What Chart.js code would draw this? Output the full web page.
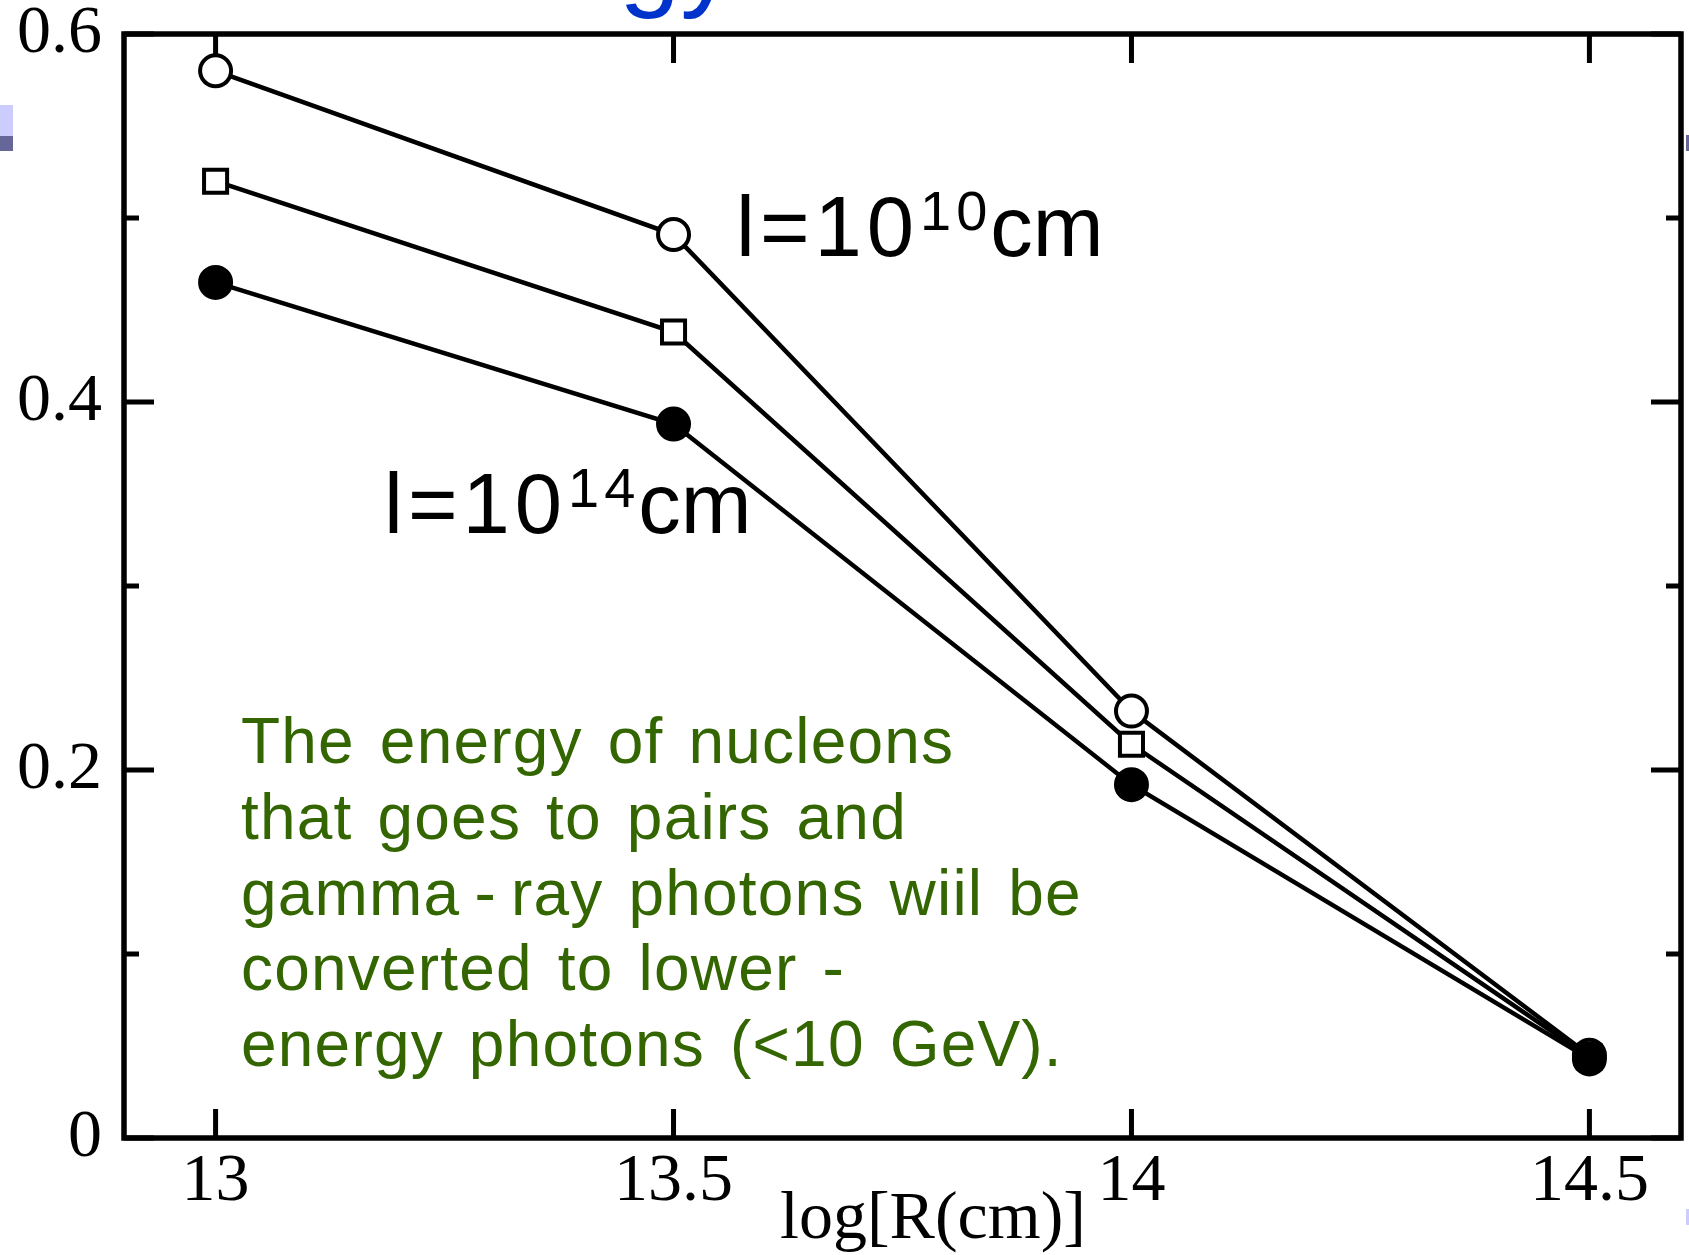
<!DOCTYPE html>
<html>
<head>
<meta charset="utf-8">
<script src="https://cdn.jsdelivr.net/npm/chart.js@4.4.1/dist/chart.umd.min.js"></script>
<style>
  html, body { margin: 0; padding: 0; background: #fff; }
  #wrap { width: 1689px; height: 1255px; }
</style>
</head>
<body>
<div id="wrap"><canvas id="myChart" width="1689" height="1255"></canvas></div>
<script>
// fraction of nucleon energy going to pairs and gamma rays vs log R
var logR = [13, 13.5, 14, 14.5];
var openCircle = [0.58, 0.491, 0.232, 0.045];
var openSquare = [0.52, 0.438, 0.214, 0.044];
var filledCircle = [0.465, 0.388, 0.192, 0.043];

var xTicks = [13, 13.5, 14, 14.5];
var yTicks = [0, 0.1, 0.2, 0.3, 0.4, 0.5, 0.6];
var yLabels = ["0", "", "0.2", "", "0.4", "", "0.6"];

var noteLines = [
    "The energy of nucleons",
    "that goes to pairs and",
    "gamma\u2009-\u2009ray photons wiil be",
    "converted to lower -",
    "energy photons (<10 GeV)."
];

let toPoints = (ys) => logR.map((x, i) => ({ x: x, y: ys[i] }));

// superscript label like l=10^10cm
let drawPowerLabel = (ctx, x, y, exp) => {
    ctx.save();
    ctx.fillStyle = "#000";
    ctx.textBaseline = "alphabetic";
    ctx.textAlign = "left";
    ctx.letterSpacing = "5px";
    ctx.font = '85px "Liberation Sans"';
    ctx.fillText("l=10", x, y);
    x += ctx.measureText("l=10").width + 1;
    ctx.font = '56px "Liberation Sans"';
    ctx.fillText(exp, x, y - 26);
    x += ctx.measureText(exp).width - 2;
    ctx.letterSpacing = "0px";
    ctx.font = '85px "Liberation Sans"';
    ctx.fillText("cm", x, y);
    ctx.restore();
};

const framePlugin = {
    id: "frame",
    beforeDraw(chart) {
        var ctx = chart.ctx;
        ctx.save();
        ctx.fillStyle = "#fff";
        ctx.fillRect(0, 0, chart.width, chart.height);
        // slide edge decorations
        ctx.fillStyle = "#ccccff";
        ctx.fillRect(0, 105, 13, 31);
        ctx.fillRect(1686, 1209, 3, 16);
        ctx.fillStyle = "#666699";
        ctx.fillRect(0, 136, 13, 15);
        ctx.fillRect(1686, 135, 3, 16);
        // bottom of the slide title
        ctx.fillStyle = "#0033cc";
        ctx.font = '110px "Liberation Sans"';
        ctx.textBaseline = "alphabetic";
        ctx.fillText("gy", 619, -4);
        ctx.restore();
    },
    beforeDatasetsDraw(chart) {
        var ctx = chart.ctx;
        var a = chart.chartArea;
        var xs = chart.scales.x;
        var ys = chart.scales.y;
        ctx.save();
        ctx.strokeStyle = "#000";
        ctx.lineWidth = 5;
        ctx.beginPath();
        xs.ticks.forEach((t) => {
            var px = xs.getPixelForValue(t.value);
            ctx.moveTo(px, a.bottom);
            ctx.lineTo(px, a.bottom - 29);
            ctx.moveTo(px, a.top);
            ctx.lineTo(px, a.top + 29);
        });
        ys.ticks.forEach((t, i) => {
            var py = ys.getPixelForValue(t.value);
            var len = yLabels[i] ? 30 : 15;
            ctx.moveTo(a.left, py);
            ctx.lineTo(a.left + len, py);
            ctx.moveTo(a.right, py);
            ctx.lineTo(a.right - len, py);
        });
        ctx.stroke();
        ctx.lineWidth = 5.5;
        ctx.lineJoin = "miter";
        ctx.strokeRect(a.left, a.top, a.right - a.left, a.bottom - a.top);
        ctx.restore();
    },
    afterDatasetsDraw(chart) {
        var ctx = chart.ctx;
        ctx.save();
        // axis title
        ctx.fillStyle = "#000";
        ctx.font = '68px "Liberation Serif"';
        ctx.textAlign = "center";
        ctx.textBaseline = "alphabetic";
        ctx.fillText("log[R(cm)]", 933, 1238);

        drawPowerLabel(ctx, 736, 256, "10");
        drawPowerLabel(ctx, 384, 533, "14");

        ctx.fillStyle = "#336600";
        ctx.font = '64px "Liberation Sans"';
        ctx.textAlign = "left";
        ctx.letterSpacing = "1.2px";
        ctx.wordSpacing = "6px";
        noteLines.forEach((line, i) => {
            ctx.fillText(line, 241, 763 + i * 75.8);
        });
        ctx.restore();
    }
};

let lineSet = (label, ys, style, radius, fill, order) => ({
    label: label,
    data: toPoints(ys),
    borderColor: "#000",
    borderWidth: 4.5,
    tension: 0,
    pointStyle: style,
    pointRadius: radius,
    pointHoverRadius: radius,
    pointBackgroundColor: fill,
    pointBorderColor: "#000",
    pointBorderWidth: 4,
    order: order,
    clip: false,
});

var ctx = document.getElementById("myChart").getContext("2d");
var myChart = new Chart(ctx, {
    type: "line",
    data: {
        datasets: [
            lineSet("l=1e10 cm", openCircle, "circle", 15.5, "#fff", 3),
            lineSet("intermediate", openSquare, "rect", 16.3, "#fff", 2),
            lineSet("l=1e14 cm", filledCircle, "circle", 15.5, "#000", 1),
        ],
    },
    plugins: [framePlugin],
    options: {
        responsive: false,
        animation: false,
        events: [],
        layout: {
            autoPadding: false,
            padding: { left: 0, top: 34, right: 8, bottom: 0 },
        },
        plugins: {
            legend: { display: false },
            tooltip: { enabled: false },
        },
        scales: {
            x: {
                type: "linear",
                min: 12.9,
                max: 14.6,
                grid: { display: false, drawTicks: false },
                border: { display: false },
                afterBuildTicks: (s) => {
                    s.ticks = xTicks.map((v) => ({ value: v }));
                },
                afterFit: (s) => {
                    s.height = 117;
                    s.paddingLeft = 0;
                    s.paddingRight = 0;
                },
                ticks: {
                    color: "#000",
                    padding: 10,
                    maxRotation: 0,
                    autoSkip: false,
                    font: { family: "Liberation Serif", size: 68, lineHeight: 1 },
                    callback: (v) => String(v),
                },
            },
            y: {
                min: 0,
                max: 0.6,
                grid: { display: false, drawTicks: false },
                border: { display: false },
                afterBuildTicks: (s) => {
                    s.ticks = yTicks.map((v) => ({ value: v }));
                },
                afterFit: (s) => {
                    s.width = 124;
                    s.paddingTop = 0;
                    s.paddingBottom = 0;
                },
                ticks: {
                    color: "#000",
                    padding: 22,
                    autoSkip: false,
                    font: { family: "Liberation Serif", size: 68, lineHeight: 1 },
                    callback: (v, i) => yLabels[i],
                },
            },
        },
    },
});
</script>
</body>
</html>
